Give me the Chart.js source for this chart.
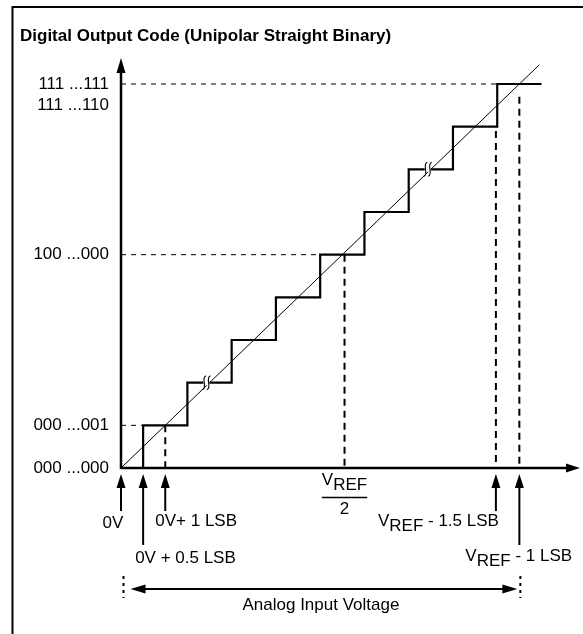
<!DOCTYPE html>
<html><head><meta charset="utf-8">
<script src="https://cdn.jsdelivr.net/npm/chart.js@4.4.0/dist/chart.umd.min.js"></script>
<style>html,body{margin:0;padding:0;background:#fff;}canvas{display:block;}</style>
</head><body>
<canvas id="c" width="583" height="634"></canvas>
<script>
// ---- data (units: LSB on x, output code on y) ----
const transitions = [0.5, 1.5, 2.5, 3.5, 4.5, 5.5, 6.5, 7.5, 8.5];
const codes = [1, 2, 3, 4, 5, 6, 7, 8, 9];
const stepEnd = 9.5;
const idealX = [0, 9.45];
const idealY = [0, 9.45];
const codeValues = [9, 8.5, 5, 1, 0];
const codeLabels = ['111 ...111', '111 ...110', '100 ...000', '000 ...001', '000 ...000'];
const guideHy = [9, 5, 1];
const guideHx = [8.5, 4.5, 0.5];
const guideVx = [1, 5.05, 8.47, 9];
const guideVtop = [1, 5, 7.9, 8.7];
const breakX = [1.93, 6.93];
const breakY = [2, 7];
const markerX = [0, 0.5, 1, 8.47, 9];
const markerLong = [false, true, false, false, true];
const vrefHalfX = 5.05;
const rangeX = [0, 9];
const axisMaxX = 10.37, axisMaxY = 9.61;
const titleText = 'Digital Output Code (Unipolar Straight Binary)';
const xTitle = 'Analog Input Voltage';

const FONT = '"Liberation Sans", Arial, sans-serif';

// staircase points built from the transition table
const stairs = [{x: transitions[0], y: 0}];
transitions.forEach((t, i) => {
  stairs.push({x: t, y: codes[i]});
  stairs.push({x: i + 1 < transitions.length ? transitions[i + 1] : stepEnd, y: codes[i]});
});

const datasets = [];
datasets.push({data: stairs, borderColor: '#000', borderWidth: 2.2, showLine: true, pointRadius: 0, tension: 0});
datasets.push({data: idealX.map((x, i) => ({x, y: idealY[i]})), borderColor: '#000', borderWidth: 1, showLine: true, pointRadius: 0});
guideHy.forEach((y, i) => datasets.push({data: [{x: 0, y}, {x: guideHx[i], y}], borderColor: '#000', borderWidth: 1, borderDash: [5, 5], showLine: true, pointRadius: 0}));
guideVx.forEach((x, i) => datasets.push({data: [{x, y: guideVtop[i]}, {x, y: 0}], borderColor: '#000', borderWidth: 2, borderDash: [7, 5], showLine: true, pointRadius: 0}));

function arrowHead(ctx, tx, ty, dx, dy, len, half) {
  const bx = tx - dx * len, by = ty - dy * len, px = -dy, py = dx;
  ctx.beginPath();
  ctx.moveTo(tx, ty);
  ctx.lineTo(bx + px * half, by + py * half);
  ctx.lineTo(bx - px * half, by - py * half);
  ctx.closePath();
  ctx.fill();
}
function vrefText(ctx, x, y, rest, align) {
  ctx.font = '17px ' + FONT;
  ctx.textBaseline = 'middle';
  ctx.textAlign = 'left';
  const wV = ctx.measureText('V').width, wR = ctx.measureText('REF').width, wRest = ctx.measureText(rest).width;
  const total = wV + wR + wRest;
  let sx = align === 'right' ? x - total : align === 'center' ? x - total / 2 : x;
  ctx.fillText('V', sx, y);
  ctx.fillText('REF', sx + wV, y + 5);
  if (rest) ctx.fillText(rest, sx + wV + wR, y);
  return {sx, total};
}

const deco = {
  id: 'deco',
  afterDatasetsDraw(chart) {
    const ctx = chart.ctx, xs = chart.scales.x, ys = chart.scales.y;
    const X = v => xs.getPixelForValue(v), Y = v => ys.getPixelForValue(v);
    ctx.save();
    ctx.fillStyle = '#000'; ctx.strokeStyle = '#000';
    // frame
    ctx.lineWidth = 2;
    ctx.beginPath(); ctx.moveTo(12.5, 634); ctx.lineTo(12.5, 7); ctx.lineTo(583, 7); ctx.stroke();
    // axes
    const ox = X(0), oy = Y(0), xr = chart.chartArea.right, yt = chart.chartArea.top;
    ctx.lineWidth = 2.5;
    ctx.beginPath(); ctx.moveTo(ox, oy); ctx.lineTo(xr - 8, oy); ctx.stroke();
    ctx.beginPath(); ctx.moveTo(ox, oy + 1); ctx.lineTo(ox, yt + 8); ctx.stroke();
    arrowHead(ctx, xr, oy, 1, 0, 14, 4.5);
    arrowHead(ctx, ox, yt, 0, -1, 15, 4.5);
    // break symbols
    breakX.forEach((bxv, i) => {
      const cx = X(bxv), cy = Y(breakY[i]);
      ctx.fillStyle = '#fff';
      ctx.fillRect(cx - 3, cy - 2.5, 6, 5);
      ctx.fillStyle = '#000';
      ctx.lineWidth = 1.1;
      [-2.2, 2.2].forEach(d => {
        ctx.beginPath();
        ctx.moveTo(cx + d + 1.8, cy - 7);
        ctx.bezierCurveTo(cx + d - 4, cy - 5, cx + d + 4, cy + 5, cx + d - 1.8, cy + 7);
        ctx.stroke();
      });
    });
    // input markers (up arrows)
    ctx.lineWidth = 2;
    markerX.forEach((mx, i) => {
      const px = X(mx);
      const bottom = markerLong[i] ? 545 : 511;
      ctx.beginPath(); ctx.moveTo(px, bottom); ctx.lineTo(px, oy + 18); ctx.stroke();
      arrowHead(ctx, px, oy + 6, 0, -1, 14, 4.5);
    });
    // texts
    ctx.font = 'bold 17px ' + FONT;
    ctx.textBaseline = 'middle'; ctx.textAlign = 'left';
    ctx.fillText(titleText, 20, 36);
    ctx.font = '17px ' + FONT;
    ctx.textAlign = 'right';
    codeValues.forEach((v, i) => ctx.fillText(codeLabels[i], 109, Y(v)));
    ctx.textAlign = 'center';
    ctx.fillText('0V', X(markerX[0]) - 8, 523);
    ctx.textAlign = 'left';
    ctx.fillText('0V+ 1 LSB', X(markerX[2]) - 10, 521);
    ctx.fillText('0V + 0.5 LSB', X(markerX[1]) - 8, 558);
    vrefText(ctx, X(markerX[3]) + 3, 521, ' - 1.5 LSB', 'right');
    vrefText(ctx, X(markerX[4]) - 54, 556, ' - 1 LSB', 'left');
    // VREF / 2
    const r = vrefText(ctx, X(vrefHalfX), 480, '', 'center');
    ctx.lineWidth = 1.5;
    ctx.beginPath(); ctx.moveTo(r.sx, 497.5); ctx.lineTo(r.sx + r.total, 497.5); ctx.stroke();
    ctx.textAlign = 'center';
    ctx.fillText('2', X(vrefHalfX), 509);
    // range arrow
    const lx = X(rangeX[0]) + 2.5, rx = X(rangeX[1]) + 1;
    ctx.lineWidth = 2;
    ctx.setLineDash([3, 4]);
    [lx, rx].forEach(p => { ctx.beginPath(); ctx.moveTo(p, 576); ctx.lineTo(p, 598); ctx.stroke(); });
    ctx.setLineDash([]);
    ctx.beginPath(); ctx.moveTo(lx + 14, 589); ctx.lineTo(rx - 16, 589); ctx.stroke();
    arrowHead(ctx, lx + 7, 589, -1, 0, 15, 4.5);
    arrowHead(ctx, rx - 3, 589, 1, 0, 15, 4.5);
    ctx.fillText(xTitle, (lx + rx) / 2 - 1, 605);
    ctx.restore();
  }
};

new Chart(document.getElementById('c'), {
  type: 'scatter',
  data: {datasets},
  options: {
    responsive: false,
    animation: false,
    devicePixelRatio: 1,
    layout: {padding: {left: 121, right: 3, top: 58, bottom: 166}},
    plugins: {legend: {display: false}, tooltip: {enabled: false}},
    scales: {
      x: {type: 'linear', min: 0, max: axisMaxX, display: false},
      y: {type: 'linear', min: 0, max: axisMaxY, display: false}
    },
    elements: {line: {borderCapStyle: 'butt', borderJoinStyle: 'miter'}}
  },
  plugins: [deco]
});
</script>
</body></html>
